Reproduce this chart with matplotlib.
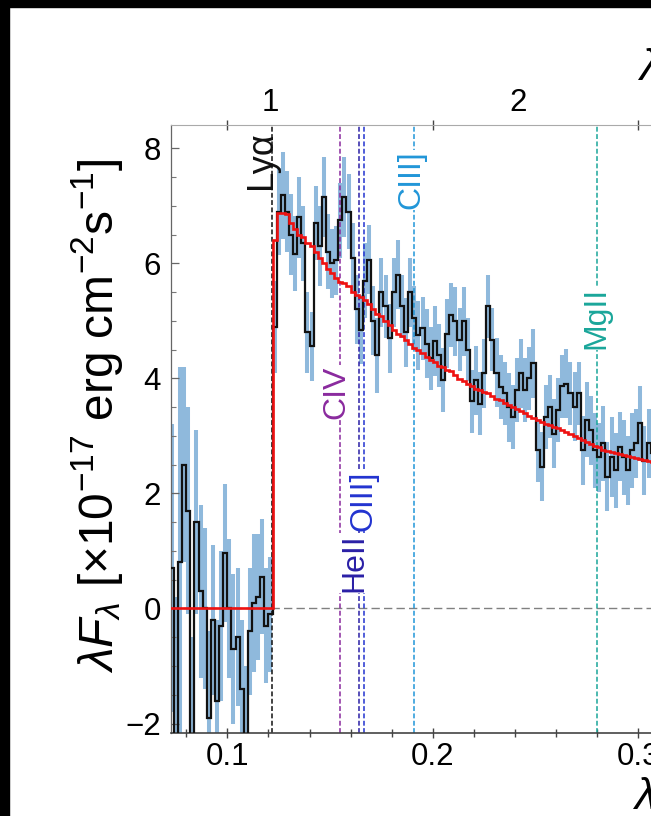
import numpy as np
import matplotlib
matplotlib.use('Agg')
import matplotlib.pyplot as plt
from matplotlib.patches import Rectangle
from matplotlib.ticker import MultipleLocator, FormatStrFormatter

plt.rcParams['font.family'] = 'Liberation Sans'
plt.rcParams['mathtext.fontset'] = 'custom'
plt.rcParams['mathtext.rm'] = 'Liberation Sans'
plt.rcParams['mathtext.it'] = 'Liberation Sans:italic'
plt.rcParams['mathtext.bf'] = 'Liberation Sans:bold'

# spectrum binned on a 0.002 um rest-frame grid, starting at 0.072 um
bin_start = 0.072
bin_width = 0.002
redshift = 7.28

flux = np.array([
    0.7, -2.4, 0.8, 2.5, 1.7, -2.3, 1.5, 0.3, 0.0, -1.9,
    -0.2, -1.6, -0.3, 0.96, 0.0, -0.7, -0.5, -1.4, -2.3, -0.4,
    0.1, 0.2, 0.55, -0.3, -0.1,
    4.9, 6.9, 7.18, 6.9, 6.5, 6.17, 6.8, 6.35, 4.8, 4.56,
    6.7, 6.3, 7.15, 6.2, 6.0, 6.05, 6.75, 7.15, 6.9, 6.1,
    5.2, 4.85, 5.7, 6.06, 5.0, 4.4, 5.5, 5.25, 4.7, 5.5,
    5.8, 5.25, 4.8,
    5.5, 5.05, 4.75, 4.87, 4.6, 4.35, 4.65, 4.4, 3.97, 4.78,
    5.1, 4.99, 4.67, 4.99, 4.5, 3.6, 3.97, 3.56, 4.09, 5.25,
    4.67, 4.1, 3.85, 3.74, 3.5, 3.33, 3.8, 4.09, 3.8, 4.0,
    4.26, 2.75, 2.46, 3.33, 3.51, 3.04, 3.45, 3.86, 3.91, 3.74,
    3.51, 3.74, 2.75, 3.28, 3.1, 2.75, 2.63, 2.87, 2.29, 2.63,
    2.4, 2.81, 2.63, 2.4, 2.75, 2.87, 3.22, 2.57, 2.87, 2.7,
])

flux_err = np.array([
    2.5, 2.6, 3.4, 1.7, 1.8, 1.8, 1.6, 1.5, 1.4, 1.5,
    1.3, 1.4, 1.3, 1.2, 1.2, 1.3, 1.2, 1.2, 1.3, 1.1,
    1.2, 1.1, 1.0, 1.0, 1.0,
    0.8, 0.75, 0.75, 0.7, 0.7, 0.65, 0.7, 0.65, 0.7, 0.6,
    0.65, 0.7, 0.7, 0.65, 0.6, 0.6, 0.65, 0.7, 0.65, 0.6,
    0.6, 0.6, 0.65, 0.6, 0.6, 0.65, 0.6, 0.55, 0.6, 0.6,
    0.6, 0.55, 0.6, 0.6, 0.55, 0.6, 0.55, 0.6, 0.55, 0.6,
    0.55, 0.55, 0.6, 0.55, 0.6, 0.55, 0.6, 0.55, 0.55, 0.6,
    0.55, 0.6, 0.55, 0.55, 0.6, 0.55, 0.55, 0.6, 0.55, 0.55,
    0.6, 0.55, 0.55, 0.6, 0.55, 0.6, 0.55, 0.55, 0.6, 0.55,
    0.55, 0.6, 0.55, 0.6, 0.55, 0.6, 0.65, 0.6, 0.65, 0.6,
    0.65, 0.6, 0.7, 0.65, 0.6, 0.65, 0.6, 0.65, 0.6, 0.65,
    0.6, 0.6, 0.6,
])

model = np.array([
    0.0, 0.0, 0.0, 0.0, 0.0, 0.0, 0.0, 0.0, 0.0, 0.0,
    0.0, 0.0, 0.0, 0.0, 0.0, 0.0, 0.0, 0.0, 0.0, 0.0,
    0.0, 0.0, 0.0, 0.0, 0.0,
    6.4, 6.87, 6.87, 6.85, 6.7, 6.6, 6.5, 6.45, 6.35, 6.3,
    6.2, 6.1, 6.0, 5.9, 5.83, 5.75, 5.68, 5.66, 5.6, 5.5,
    5.45, 5.42, 5.37, 5.3, 5.2, 5.12, 5.08, 5.0, 4.92, 4.85,
    4.78, 4.73, 4.66, 4.6, 4.53, 4.49, 4.45, 4.38, 4.32, 4.28,
    4.22, 4.2, 4.15, 4.12, 4.06, 3.99, 3.95, 3.91, 3.87, 3.82,
    3.8, 3.77, 3.74, 3.69, 3.64, 3.62, 3.57, 3.53, 3.5, 3.47,
    3.44, 3.39, 3.35, 3.31, 3.27, 3.24, 3.21, 3.19, 3.16, 3.13,
    3.1, 3.07, 3.03, 2.99, 2.96, 2.93, 2.9, 2.86, 2.83, 2.8,
    2.75, 2.74, 2.72, 2.7, 2.68, 2.67, 2.65, 2.64, 2.62, 2.6,
    2.58, 2.57, 2.55,
])

# rest-frame emission lines (um)
line_names = ['Lyα', 'CIV', 'HeII', 'OIII]', 'CIII]', 'MgII']
line_waves = [0.1216, 0.1549, 0.1640, 0.1663, 0.1909, 0.2798]
line_colors = ['#111111', '#8a2a9e', '#2a1fa6', '#2233d0', '#2196d8', '#1aa69a']
# label placement: x shift in um, y centre, font size
label_dx = [-0.0052, -0.0020, -0.0024, 0.0, -0.0011, -0.0003]
label_y = [7.8, 3.76, 0.79, 1.88, 7.45, 5.05]
label_size = [26, 23, 23, 23, 23, 23]

edges = bin_start + bin_width * np.arange(len(flux) + 1)
centers = 0.5 * (edges[:-1] + edges[1:])

W, H = 651, 816
fig = plt.figure(figsize=(W / 100, H / 100), dpi=100)
fig.patch.set_facecolor('white')

# axes runs past the right edge of the canvas
ax_left, ax_bottom, ax_right, ax_top = 170.7, 733.3, 1100.0, 125.3
ax = fig.add_axes([ax_left / W, 1 - ax_bottom / H,
                   (ax_right - ax_left) / W, (ax_bottom - ax_top) / H])

ax.vlines(centers, flux - flux_err, flux + flux_err, color='#8fb9dc',
          lw=2.9, zorder=1)
ax.axhline(0, color='#808080', lw=1.0, dashes=(6, 3), zorder=1.5)
for w, c in zip(line_waves, line_colors):
    ax.axvline(w, color=c, lw=1.1, dashes=(3.2, 1.6), zorder=2)
ax.stairs(flux, edges, baseline=None, color='#111111', lw=1.6, zorder=3)
ax.stairs(model, edges, baseline=None, color='#ee1111', lw=1.9, zorder=4)

for name, w, c, dx, y, fs in zip(line_names, line_waves, line_colors,
                                 label_dx, label_y, label_size):
    bb = None if name.startswith('Ly') else dict(fc='white', ec='none', pad=0.5)
    ax.text(w + dx, y, name, color=c, rotation=90, ha='center', va='center',
            fontsize=fs, bbox=bb, zorder=5)

xmin = 0.1 - (227.3 - ax_left) / 2055.0
xmax = 0.1 + (ax_right - 227.3) / 2055.0
ax.set_xlim(xmin, xmax)
ax.set_ylim(-2.17, 8.4)

ax.xaxis.set_major_locator(MultipleLocator(0.1))
ax.xaxis.set_minor_locator(MultipleLocator(0.02))
ax.xaxis.set_major_formatter(FormatStrFormatter('%.1f'))
ax.yaxis.set_major_locator(MultipleLocator(2))
ax.yaxis.set_minor_locator(MultipleLocator(0.5))

ax.tick_params(axis='x', which='major', direction='inout', length=7, width=1.0,
               color='#444444', labelsize=22.5, pad=3, top=True)
ax.tick_params(axis='x', which='minor', direction='inout', length=6, width=1.0,
               color='#444444', top=False)
ax.tick_params(axis='y', which='major', direction='in', length=6, width=0.9,
               color='#666666', labelsize=22.5, pad=7)
ax.tick_params(axis='y', which='minor', direction='in', length=3.5, width=0.8,
               color='#777777')

ax.spines['bottom'].set_color('#444444')
ax.spines['bottom'].set_linewidth(1.2)
ax.spines['left'].set_color('#666666')
ax.spines['left'].set_linewidth(0.9)
ax.spines['top'].set_color('#aaaaaa')
ax.spines['top'].set_linewidth(0.8)

ax.set_ylabel(r'$\lambda F_\lambda$ [$\times$10$^{-17}$ erg cm$^{-2}$s$^{-1}$]',
              fontsize=34.5)
ax.yaxis.set_label_coords((97 - ax_left) / (ax_right - ax_left),
                          (ax_bottom - 416) / (ax_bottom - ax_top))
ax.yaxis.label.set_va('center')

ax.set_xlabel(r'$\lambda_{\rm rest}$ [$\mu$m]', fontsize=32)
ax.xaxis.set_label_coords((632 - ax_left) / (ax_right - ax_left),
                          -(775 - ax_bottom) / (ax_bottom - ax_top))
ax.xaxis.label.set_ha('left')
ax.xaxis.label.set_va('top')

sec = ax.secondary_xaxis('top', functions=(lambda x: x * (1 + redshift),
                                           lambda x: x / (1 + redshift)))
sec.set_xticks([1, 2, 3])
sec.tick_params(axis='x', length=0, labelsize=22.5, pad=5)
sec.spines['top'].set_visible(False)
sec.set_xlabel(r'$\lambda_{\rm obs}$ [$\mu$m]', fontsize=32)
sec.xaxis.set_label_coords((637 - ax_left) / (ax_right - ax_left),
                           (ax_bottom - 80) / (ax_bottom - ax_top),
                           transform=ax.transAxes)
sec.xaxis.label.set_ha('left')
sec.xaxis.label.set_va('baseline')

# dark frame along the top and left edges
fig.add_artist(Rectangle((0, 1 - 7 / H), 1, 7 / H, transform=fig.transFigure,
                         color='black', zorder=10))
fig.add_artist(Rectangle((0, 0), 9 / W, 1, transform=fig.transFigure,
                         color='black', zorder=10))

fig.savefig('out.png', dpi=100)
